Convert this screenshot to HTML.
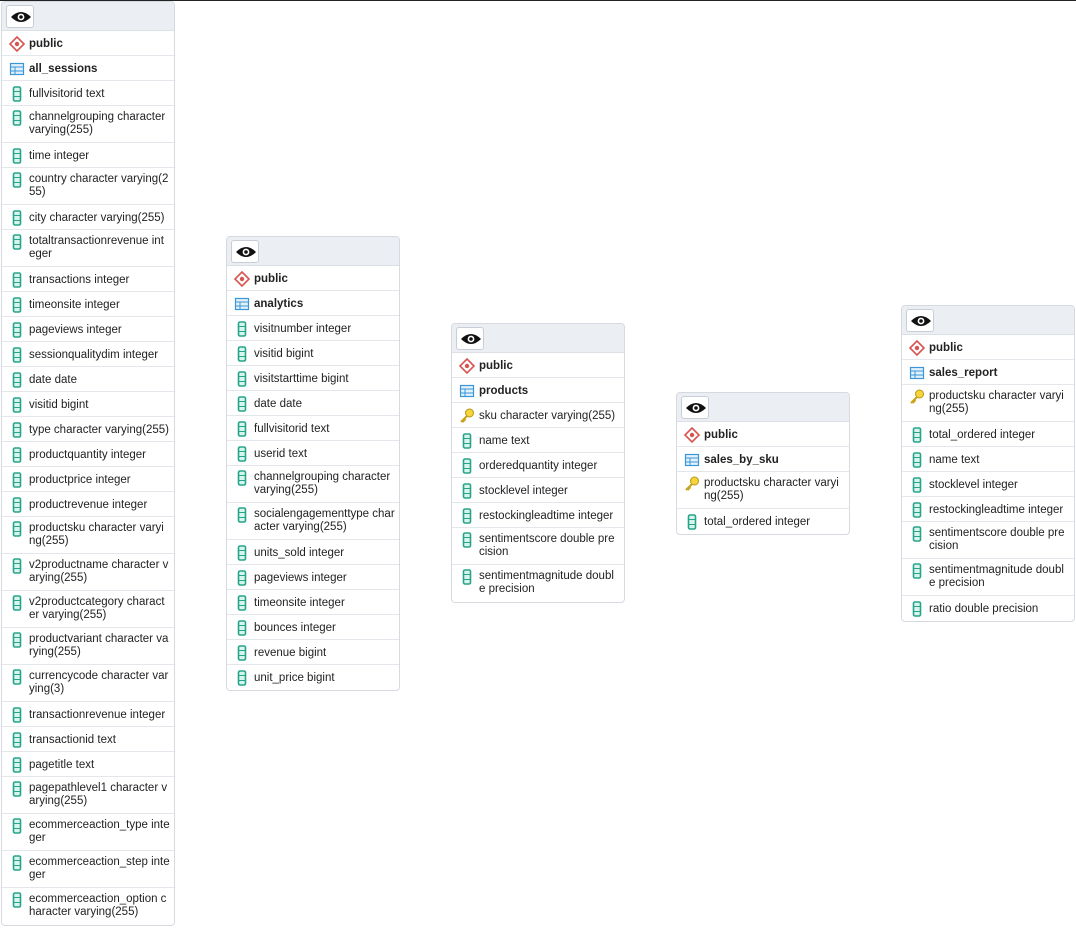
<!DOCTYPE html>
<html><head><meta charset="utf-8">
<style>
*{box-sizing:border-box;margin:0;padding:0}
body{width:1076px;height:939px;background:#fff;position:relative;overflow:hidden;font-family:"Liberation Sans",Arial,sans-serif;font-size:11.5px;color:#222;border-top:1px solid #222}
.t{position:absolute;width:174px;background:#fff;border:1px solid #d6dae0;border-radius:4px;overflow:hidden}
.h{height:29px;background:#ebeef3;border-bottom:1px solid #dde1e6;position:relative}
.eye{position:absolute;left:4px;top:3px;width:28px;height:23px;background:#fff;border:1px solid #c9ced6;border-radius:3px}
.eye svg{position:absolute;left:4px;top:4px}
.r{height:25px;border-bottom:1px solid #e3e6ea;position:relative;padding-left:27px;line-height:13px;padding-top:7px;white-space:nowrap}
.d{height:37px;padding-top:5px}
.r:last-child{border-bottom:none}
.b{font-weight:bold}
.r svg{position:absolute;left:7px;top:5px}
.d svg{top:4px}
</style></head><body>
<svg width="0" height="0" style="position:absolute">
<defs>
<g id="sch"><path d="M8 1 L15 8 L8 15 L1 8 Z" fill="#fff" stroke="#d9534f" stroke-width="1.6"/><circle cx="8" cy="8" r="2.2" fill="#d9534f"/></g>
<g id="tbl"><rect x="1.5" y="2.5" width="13" height="11" fill="#e4f1fb" stroke="#3a96d8" stroke-width="1.2"/><line x1="1.5" y1="6" x2="14.5" y2="6" stroke="#3a96d8"/><line x1="1.5" y1="10" x2="14.5" y2="10" stroke="#3a96d8"/><line x1="6" y1="6" x2="6" y2="13.5" stroke="#3a96d8"/></g>
<g id="col"><rect x="4.5" y="1" width="7" height="14" rx="1.5" fill="#d9f4ec" stroke="#26a489" stroke-width="1.6"/><line x1="4.5" y1="5.5" x2="11.5" y2="5.5" stroke="#26a489"/><line x1="4.5" y1="10.5" x2="11.5" y2="10.5" stroke="#26a489"/></g>
<g id="key"><circle cx="10.5" cy="5" r="4" fill="#f6d43a" stroke="#b8961a"/><path d="M8 8 L2 14 M3.5 12.5 L5 14 M5 11 L6.5 12.5" stroke="#c9a21a" stroke-width="2" fill="none"/></g>
<g id="eye"><path d="M0 7 Q10 -3 20 7 Q10 17 0 7Z" fill="#111"/><circle cx="10" cy="7" r="3.4" fill="#fff"/><circle cx="10" cy="7" r="1.8" fill="#111"/></g>
</defs></svg>

<div class="t" style="left:1px;top:0px">
<div class="h"><div class="eye"><svg width="20" height="14"><use href="#eye"/></svg></div></div>
<div class="r b"><svg width="16" height="16"><use href="#sch"/></svg>public</div>
<div class="r b"><svg width="16" height="16"><use href="#tbl"/></svg>all_sessions</div>
<div class="r"><svg width="16" height="16"><use href="#col"/></svg>fullvisitorid text</div>
<div class="r d"><svg width="16" height="16"><use href="#col"/></svg>channelgrouping character<br>varying(255)</div>
<div class="r"><svg width="16" height="16"><use href="#col"/></svg>time integer</div>
<div class="r d"><svg width="16" height="16"><use href="#col"/></svg>country character varying(2<br>55)</div>
<div class="r"><svg width="16" height="16"><use href="#col"/></svg>city character varying(255)</div>
<div class="r d"><svg width="16" height="16"><use href="#col"/></svg>totaltransactionrevenue int<br>eger</div>
<div class="r"><svg width="16" height="16"><use href="#col"/></svg>transactions integer</div>
<div class="r"><svg width="16" height="16"><use href="#col"/></svg>timeonsite integer</div>
<div class="r"><svg width="16" height="16"><use href="#col"/></svg>pageviews integer</div>
<div class="r"><svg width="16" height="16"><use href="#col"/></svg>sessionqualitydim integer</div>
<div class="r"><svg width="16" height="16"><use href="#col"/></svg>date date</div>
<div class="r"><svg width="16" height="16"><use href="#col"/></svg>visitid bigint</div>
<div class="r"><svg width="16" height="16"><use href="#col"/></svg>type character varying(255)</div>
<div class="r"><svg width="16" height="16"><use href="#col"/></svg>productquantity integer</div>
<div class="r"><svg width="16" height="16"><use href="#col"/></svg>productprice integer</div>
<div class="r"><svg width="16" height="16"><use href="#col"/></svg>productrevenue integer</div>
<div class="r d"><svg width="16" height="16"><use href="#col"/></svg>productsku character varyi<br>ng(255)</div>
<div class="r d"><svg width="16" height="16"><use href="#col"/></svg>v2productname character v<br>arying(255)</div>
<div class="r d"><svg width="16" height="16"><use href="#col"/></svg>v2productcategory charact<br>er varying(255)</div>
<div class="r d"><svg width="16" height="16"><use href="#col"/></svg>productvariant character va<br>rying(255)</div>
<div class="r d"><svg width="16" height="16"><use href="#col"/></svg>currencycode character var<br>ying(3)</div>
<div class="r"><svg width="16" height="16"><use href="#col"/></svg>transactionrevenue integer</div>
<div class="r"><svg width="16" height="16"><use href="#col"/></svg>transactionid text</div>
<div class="r"><svg width="16" height="16"><use href="#col"/></svg>pagetitle text</div>
<div class="r d"><svg width="16" height="16"><use href="#col"/></svg>pagepathlevel1 character v<br>arying(255)</div>
<div class="r d"><svg width="16" height="16"><use href="#col"/></svg>ecommerceaction_type inte<br>ger</div>
<div class="r d"><svg width="16" height="16"><use href="#col"/></svg>ecommerceaction_step inte<br>ger</div>
<div class="r d"><svg width="16" height="16"><use href="#col"/></svg>ecommerceaction_option c<br>haracter varying(255)</div>
</div>

<div class="t" style="left:226px;top:235px">
<div class="h"><div class="eye"><svg width="20" height="14"><use href="#eye"/></svg></div></div>
<div class="r b"><svg width="16" height="16"><use href="#sch"/></svg>public</div>
<div class="r b"><svg width="16" height="16"><use href="#tbl"/></svg>analytics</div>
<div class="r"><svg width="16" height="16"><use href="#col"/></svg>visitnumber integer</div>
<div class="r"><svg width="16" height="16"><use href="#col"/></svg>visitid bigint</div>
<div class="r"><svg width="16" height="16"><use href="#col"/></svg>visitstarttime bigint</div>
<div class="r"><svg width="16" height="16"><use href="#col"/></svg>date date</div>
<div class="r"><svg width="16" height="16"><use href="#col"/></svg>fullvisitorid text</div>
<div class="r"><svg width="16" height="16"><use href="#col"/></svg>userid text</div>
<div class="r d"><svg width="16" height="16"><use href="#col"/></svg>channelgrouping character<br>varying(255)</div>
<div class="r d"><svg width="16" height="16"><use href="#col"/></svg>socialengagementtype char<br>acter varying(255)</div>
<div class="r"><svg width="16" height="16"><use href="#col"/></svg>units_sold integer</div>
<div class="r"><svg width="16" height="16"><use href="#col"/></svg>pageviews integer</div>
<div class="r"><svg width="16" height="16"><use href="#col"/></svg>timeonsite integer</div>
<div class="r"><svg width="16" height="16"><use href="#col"/></svg>bounces integer</div>
<div class="r"><svg width="16" height="16"><use href="#col"/></svg>revenue bigint</div>
<div class="r"><svg width="16" height="16"><use href="#col"/></svg>unit_price bigint</div>
</div>

<div class="t" style="left:451px;top:322px">
<div class="h"><div class="eye"><svg width="20" height="14"><use href="#eye"/></svg></div></div>
<div class="r b"><svg width="16" height="16"><use href="#sch"/></svg>public</div>
<div class="r b"><svg width="16" height="16"><use href="#tbl"/></svg>products</div>
<div class="r"><svg width="16" height="16"><use href="#key"/></svg>sku character varying(255)</div>
<div class="r"><svg width="16" height="16"><use href="#col"/></svg>name text</div>
<div class="r"><svg width="16" height="16"><use href="#col"/></svg>orderedquantity integer</div>
<div class="r"><svg width="16" height="16"><use href="#col"/></svg>stocklevel integer</div>
<div class="r"><svg width="16" height="16"><use href="#col"/></svg>restockingleadtime integer</div>
<div class="r d"><svg width="16" height="16"><use href="#col"/></svg>sentimentscore double pre<br>cision</div>
<div class="r d"><svg width="16" height="16"><use href="#col"/></svg>sentimentmagnitude doubl<br>e precision</div>
</div>

<div class="t" style="left:676px;top:391px">
<div class="h"><div class="eye"><svg width="20" height="14"><use href="#eye"/></svg></div></div>
<div class="r b"><svg width="16" height="16"><use href="#sch"/></svg>public</div>
<div class="r b"><svg width="16" height="16"><use href="#tbl"/></svg>sales_by_sku</div>
<div class="r d"><svg width="16" height="16"><use href="#key"/></svg>productsku character varyi<br>ng(255)</div>
<div class="r"><svg width="16" height="16"><use href="#col"/></svg>total_ordered integer</div>
</div>

<div class="t" style="left:901px;top:304px">
<div class="h"><div class="eye"><svg width="20" height="14"><use href="#eye"/></svg></div></div>
<div class="r b"><svg width="16" height="16"><use href="#sch"/></svg>public</div>
<div class="r b"><svg width="16" height="16"><use href="#tbl"/></svg>sales_report</div>
<div class="r d"><svg width="16" height="16"><use href="#key"/></svg>productsku character varyi<br>ng(255)</div>
<div class="r"><svg width="16" height="16"><use href="#col"/></svg>total_ordered integer</div>
<div class="r"><svg width="16" height="16"><use href="#col"/></svg>name text</div>
<div class="r"><svg width="16" height="16"><use href="#col"/></svg>stocklevel integer</div>
<div class="r"><svg width="16" height="16"><use href="#col"/></svg>restockingleadtime integer</div>
<div class="r d"><svg width="16" height="16"><use href="#col"/></svg>sentimentscore double pre<br>cision</div>
<div class="r d"><svg width="16" height="16"><use href="#col"/></svg>sentimentmagnitude doubl<br>e precision</div>
<div class="r"><svg width="16" height="16"><use href="#col"/></svg>ratio double precision</div>
</div>
</body></html>
